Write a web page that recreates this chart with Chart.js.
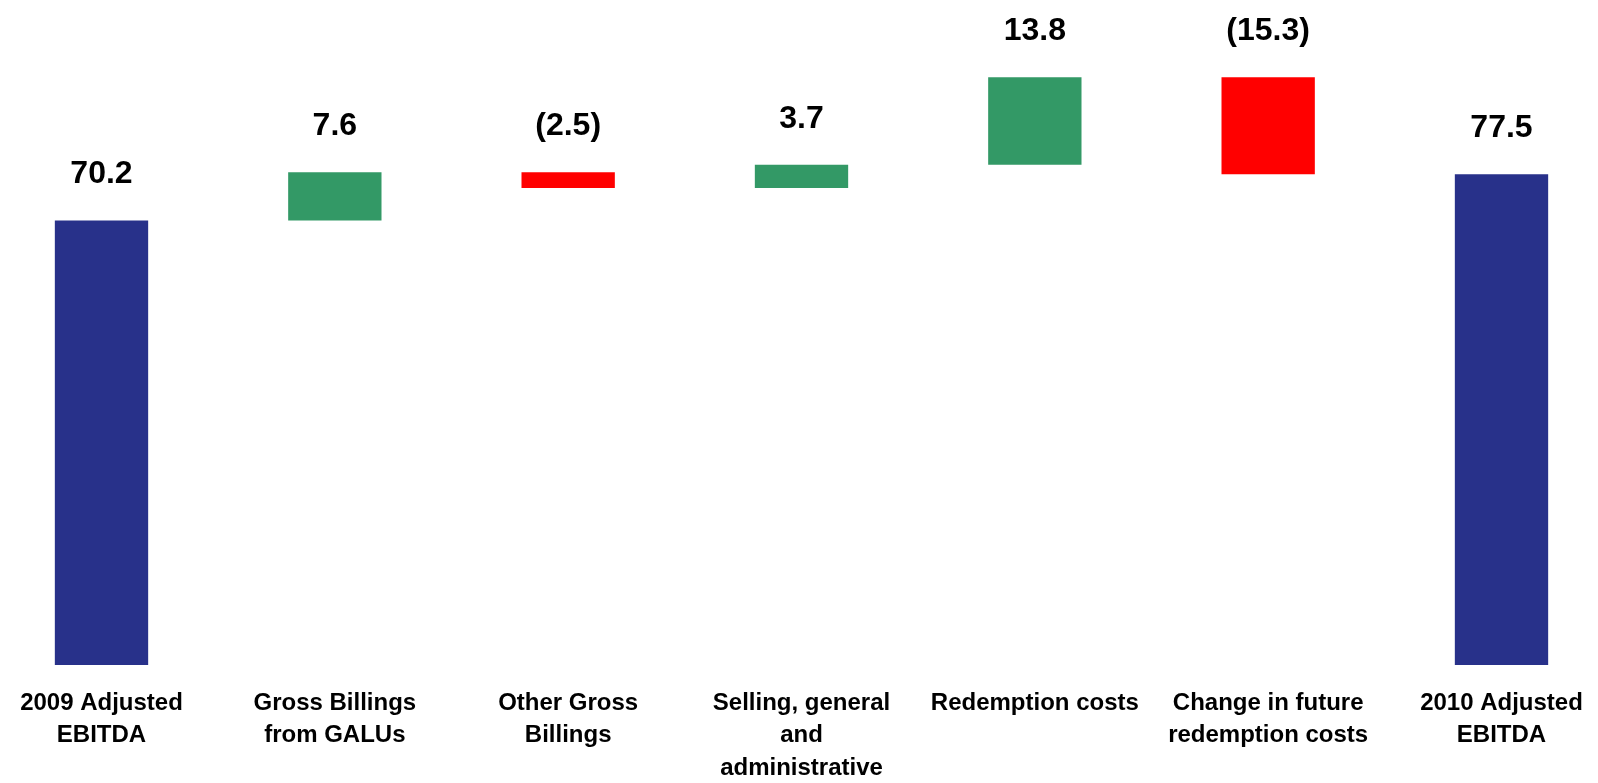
<!DOCTYPE html>
<html>
<head>
<meta charset="utf-8">
<script src="https://cdn.jsdelivr.net/npm/chart.js@4/dist/chart.umd.min.js"></script>
<style>
  html, body { margin: 0; padding: 0; background: #fff; }
  #wrap { width: 1598px; height: 783px; position: relative; }
</style>
</head>
<body>
<div id="wrap"><canvas id="bridgeChart"></canvas></div>
<script>
// EBITDA bridge 2009 -> 2010 (waterfall)
const categories = [
  ['2009 Adjusted', 'EBITDA'],
  ['Gross Billings', 'from GALUs'],
  ['Other Gross', 'Billings'],
  ['Selling, general', 'and', 'administrative'],
  ['Redemption costs'],
  ['Change in future', 'redemption costs'],
  ['2010 Adjusted', 'EBITDA']
];
const startValue = 70.2;
const changes = [7.6, -2.5, 3.7, 13.8, -15.3];
const endValue = 77.5;

const blue = '#28318a';
const green = '#339966';
const red = '#ff0000';
const fontFamily = '"Liberation Sans", Arial, sans-serif';

// build floating bars [from, to]
const floats = [[0, startValue]];
const labelValues = [startValue];
const colors = [blue];
let running = startValue;
changes.forEach(c => {
  floats.push([running, running + c]);
  running += c;
  labelValues.push(c);
  colors.push(c >= 0 ? green : red);
});
floats.push([0, endValue]);
labelValues.push(endValue);
colors.push(blue);

function fmt(v) {
  return v < 0 ? '(' + Math.abs(v).toFixed(1) + ')' : v.toFixed(1);
}

const valueLabels = {
  id: 'valueLabels',
  afterDatasetsDraw(chart) {
    const ctx = chart.ctx;
    const meta = chart.getDatasetMeta(0);
    ctx.save();
    ctx.font = 'bold 32px ' + fontFamily;
    ctx.fillStyle = '#000';
    ctx.textAlign = 'center';
    ctx.textBaseline = 'alphabetic';
    meta.data.forEach((bar, i) => {
      const top = Math.min(bar.y, bar.base);
      ctx.fillText(fmt(labelValues[i]), bar.x, top - 37);
    });
    ctx.restore();
  }
};

const ctx = document.getElementById('bridgeChart').getContext('2d');
const bridgeChart = new Chart(ctx, {
  type: 'bar',
  data: {
    labels: categories,
    datasets: [{
      data: floats,
      backgroundColor: colors,
      borderWidth: 0,
      categoryPercentage: 1,
      barPercentage: 0.4,
      clip: false
    }]
  },
  options: {
    responsive: true,
    maintainAspectRatio: false,
    animation: false,
    layout: { padding: { left: 101.5, right: 96.5, top: 0, bottom: 0 } },
    plugins: {
      legend: { display: false },
      tooltip: { enabled: false },
      title: { display: false }
    },
    scales: {
      x: {
        offset: false,
        grid: { display: false, drawTicks: false },
        border: { display: false },
        ticks: {
          autoSkip: false,
          maxRotation: 0,
          minRotation: 0,
          padding: 22,
          color: '#000',
          font: { family: fontFamily, size: 24, weight: 'bold', lineHeight: 1.35 }
        },
        afterFit(scale) {
          scale.height = 118;
          // let the layout padding alone decide the plot edges
          scale.paddingLeft = 0;
          scale.paddingRight = 0;
        }
      },
      y: {
        display: false,
        min: 0,
        max: 105
      }
    }
  },
  plugins: [valueLabels]
});
</script>
</body>
</html>
